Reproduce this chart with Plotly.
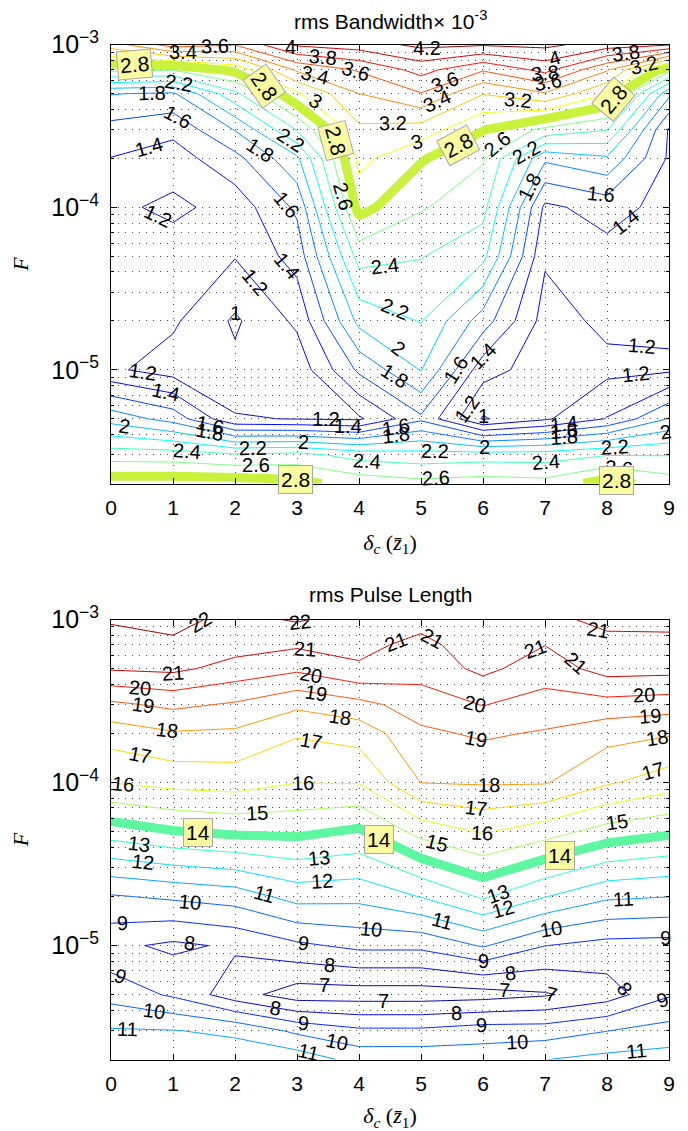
import numpy as np
import plotly.graph_objects as go

# ---------------- data ----------------
delta_c = [0, 1, 2, 3, 4, 5, 6, 7, 8, 9]
F_vals = [2e-6, 3e-6, 5e-6, 1e-5, 2e-5, 5e-5, 1e-4, 2e-4, 3e-4, 5e-4, 7e-4, 1e-3]

# rms bandwidth (x 1e-3): one row per F value, columns delta_c = 0..9
bw_2e6 = [2.90, 2.90, 2.90, 2.85, 2.725, 2.66, 2.70, 2.67, 2.88, 2.70]
bw_3e6 = [2.51, 2.50, 2.43, 2.47, 2.32, 2.28, 2.30, 2.30, 2.39, 2.39]
bw_5e6 = [1.92, 1.72, 1.22, 1.19, 1.17, 1.56, 0.98, 1.17, 1.41, 1.81]
bw_1e5 = [1.235, 1.11, 1.05, 1.07, 1.64, 2.01, 1.28, 1.10, 1.15, 1.17]
bw_2e5 = [1.30, 1.232, 0.97, 1.24, 2.06, 2.21, 1.70, 1.12, 1.244, 1.24]
bw_5e5 = [1.33, 1.31, 1.21, 1.48, 2.48, 2.41, 2.26, 1.225, 1.33, 1.30]
bw_1e4 = [1.25, 1.15, 1.284, 1.64, 2.87, 2.62, 2.47, 1.357, 1.48, 1.33]
bw_2e4 = [1.395, 1.31, 1.536, 1.96, 3.06, 2.82, 2.62, 1.84, 1.97, 1.37]
bw_3e4 = [1.53, 1.45, 1.81, 2.41, 3.16, 3.11, 2.81, 2.55, 2.41, 1.38]
bw_5e4 = [1.81, 1.77, 2.35, 2.97, 3.40, 3.59, 3.21, 3.38, 3.01, 1.85]
bw_7e4 = [2.65, 2.61, 2.85, 3.43, 3.62, 3.87, 3.62, 3.86, 3.42, 2.67]
bw_1e3 = [3.30, 3.70, 3.61, 4.03, 4.10, 4.25, 4.22, 4.25, 4.10, 4.02]

# rms pulse length: one row per F value, columns delta_c = 0..9
pl_2e6 = [11.8, 11.7, 11.6, 11.6, 10.65, 10.65, 10.6, 10.98, 11.3, 11.45]
pl_3e6 = [11.1, 11.04, 10.8, 9.78, 9.2, 9.2, 9.5, 9.5, 9.98, 10.38]
pl_5e6 = [9.62, 8.85, 7.43, 6.47, 6.5, 6.5, 6.6, 6.9, 7.515, 8.9]
pl_1e5 = [8.24, 7.8, 8.15, 8.8, 9.25, 9.25, 10.1, 9.02, 8.66, 8.6]
pl_2e5 = [9.91, 10.18, 10.46, 11.39, 11.3, 12.05, 13.15, 12.05, 11.18, 11.02]
pl_5e5 = [13.47, 13.95, 14.2, 14.23, 13.85, 15.37, 16.1, 15.44, 14.6, 14.18]
pl_1e4 = [16.02, 16.32, 16.43, 16.02, 16.05, 18.02, 18.1, 18.08, 17.12, 16.48]
pl_2e4 = [17.46, 17.9, 17.82, 17.1, 17.4, 18.8, 19.15, 18.9, 18.35, 18.09]
pl_3e4 = [18.78, 19.22, 18.87, 18.2, 18.67, 19.5, 20.03, 19.6, 19.62, 19.46]
pl_5e4 = [21.1, 21.22, 20.64, 20.2, 20.9, 20.4, 21.25, 20.48, 21.4, 21.35]
pl_7e4 = [21.58, 21.82, 21.4, 21.15, 21.2, 20.8, 21.4, 21.02, 21.35, 21.25]
pl_1e3 = [22.1, 22.3, 21.7, 22.1, 21.6, 21.25, 21.5, 21.3, 20.7, 20.75]

bw_levels_low = (1.0, 2.6, 0.2)
bw_levels_high = (3.0, 4.2, 0.2)
bw_highlight = 2.8
pl_levels_low = (7, 13, 1)
pl_levels_high = (15, 22, 1)
pl_highlight = 14

# contour-label anchors: (level, delta_c, approximate F)
bw_labels = [
    (1.4, 0.61, 2.5e-4), (1.6, 1.08, 3.8e-4), (1.8, 0.66, 5.3e-4), (2.2, 1.1, 6.1e-4),
    (3.4, 1.16, 8.9e-4), (3.6, 1.68, 9.3e-4),
    (1.2, 0.76, 9.1e-5), (1.8, 2.4, 2.2e-4), (1.6, 2.84, 8.2e-5), (1.4, 2.84, 4.3e-5),
    (1.2, 2.32, 4e-5), (1, 2.0, 2.1e-5), (2.6, 3.74, 9.7e-5), (2.4, 4.42, 4.1e-5),
    (2.2, 4.58, 2.3e-5), (2, 4.63, 1.33e-5), (1.8, 4.58, 9.7e-6), (1.6, 5.56, 9.7e-6),
    (1.4, 6.0, 1.15e-5), (1.2, 5.74, 5.8e-6), (1, 6.0, 5.2e-6),
    (3, 3.3, 3.8e-4), (2.2, 2.9, 2.8e-4), (3, 4.92, 2.6e-4), (3.2, 4.55, 3.9e-4),
    (3.4, 5.26, 5.5e-4), (3.6, 5.39, 7.3e-4), (4.2, 5.1, 9.7e-4), (3.8, 3.42, 8.7e-4),
    (3.6, 3.95, 7e-4), (3.4, 3.29, 6.6e-4), (4, 2.9, 9.7e-4), (3.2, 6.56, 4.9e-4),
    (3.8, 7.0, 6.5e-4), (3.6, 7.05, 5.1e-4), (4, 7.15, 9.6e-4),
    (2.6, 6.23, 2.2e-4), (2.2, 6.7, 2e-4), (1.8, 6.75, 1.7e-4), (1.6, 7.9, 1.24e-4),
    (1.4, 8.3, 9.3e-5), (3.8, 8.3, 9.7e-4), (3.2, 8.6, 5.3e-4),
    (1.2, 8.56, 1.43e-5), (1.2, 8.47, 9.3e-6),
    (1.2, 0.52, 9.7e-6), (1.4, 0.88, 7.5e-6), (2, 0.21, 4.4e-6), (1.6, 1.6, 4.9e-6),
    (1.8, 1.6, 4.2e-6), (2.4, 1.22, 3.1e-6), (2.2, 2.29, 3.2e-6), (2.6, 2.34, 2.6e-6),
    (1.2, 3.47, 4.9e-6), (1.4, 3.82, 4.4e-6), (2, 3.1, 3.5e-6), (2.4, 4.13, 2.5e-6),
    (1.6, 4.6, 4.6e-6), (1.8, 4.6, 4.1e-6), (2.2, 5.22, 3.1e-6), (2.6, 5.24, 2.2e-6),
    (2, 6.03, 3.3e-6), (2.4, 7.02, 2.7e-6), (1.4, 7.3, 5e-6), (1.6, 7.3, 4.6e-6),
    (1.8, 7.3, 3.9e-6), (2.2, 8.13, 3.4e-6), (2.6, 8.2, 2.6e-6), (2, 8.94, 4.1e-6),
]
pl_labels = [
    (22, 1.44, 9.6e-4), (22, 3.05, 9.6e-4), (21, 1.0, 4.5e-4), (21, 3.13, 6.4e-4),
    (21, 4.6, 6.3e-4), (21, 5.17, 6e-4), (21, 6.84, 5.2e-4), (21, 7.5, 4.9e-4),
    (21, 7.86, 8.4e-4),
    (20, 0.47, 3.9e-4), (20, 3.23, 4.6e-4), (20, 5.87, 3.2e-4), (20, 8.6, 3.6e-4),
    (19, 0.52, 3e-4), (19, 3.3, 3.6e-4), (19, 5.89, 1.9e-4), (19, 8.7, 2.7e-4),
    (18, 0.9, 2.1e-4), (18, 3.7, 2.6e-4), (18, 6.1, 9.6e-5), (18, 8.8, 1.9e-4),
    (17, 0.47, 1.55e-4), (17, 3.23, 1.9e-4), (17, 5.89, 7.1e-5), (17, 8.74, 1.1e-4),
    (16, 0.19, 9.6e-5), (16, 3.1, 9.7e-5), (16, 5.98, 4.9e-5),
    (15, 2.35, 6.5e-5), (15, 5.26, 4.3e-5), (15, 8.16, 5.7e-5),
    (13, 0.45, 4.4e-5), (13, 3.35, 3.6e-5), (13, 6.24, 2e-5),
    (12, 0.52, 3.6e-5), (12, 3.4, 2.5e-5), (12, 6.32, 1.7e-5),
    (11, 2.47, 1.9e-5), (11, 5.35, 1.5e-5), (11, 8.27, 1.95e-5),
    (10, 1.27, 1.8e-5), (10, 4.19, 1.27e-5), (10, 7.1, 1.27e-5),
    (9, 0.19, 1.5e-5), (9, 3.1, 1.07e-5), (9, 6.0, 8.3e-6), (9, 8.94, 1.27e-5),
    (8, 1.26, 9.9e-6), (8, 3.52, 8.1e-6), (8, 6.45, 7e-6), (8, 8.29, 5.6e-6),
    (8, 2.66, 4.3e-6), (8, 5.58, 3.9e-6),
    (7, 3.45, 6.1e-6), (7, 6.35, 5.4e-6), (7, 7.1, 5.2e-6), (7, 4.4, 4.6e-6),
    (9, 0.15, 6.5e-6), (9, 3.1, 3.5e-6), (9, 5.97, 3.3e-6), (9, 8.9, 4.6e-6),
    (10, 0.69, 4e-6), (10, 3.65, 2.6e-6), (10, 6.55, 2.6e-6),
    (11, 0.27, 2.9e-6), (11, 3.18, 2.3e-6), (11, 8.48, 2.3e-6),
]

# highlighted-level box anchors: (delta_c, approximate F, text angle)
bw_box_spots = [(0.38, 8e-4, -5), (2.48, 6e-4, 55), (3.63, 2.5e-4, 75), (5.6, 3e-4, -28),
                (8.1, 5e-4, -50), (2.97, 2.2e-6, 0), (8.16, 2.2e-6, 0)]
pl_box_spots = [(1.4, 5e-5, 0), (4.32, 5e-5, 0), (7.24, 4e-5, 0)]

# ---------------- styling / layout ----------------
FONT = "Liberation Sans, Arial, Helvetica, sans-serif"
SERIF = "Liberation Serif, Times New Roman, serif"
GRID = "#4a4a4a"
DASH = "1px,6px"
HL_BW = "#c8f23c"
HL_PL = "#5cf79e"
BOX_FILL = "#fafaa0"
BOX_EDGE = "#a8a8a8"

W, H = 680.0, 1123.0          # page adds an 8px body margin
PLOT_L, PLOT_R = 103.0, 661.0
TOP_Y = (36.7, 475.5)
BOT_Y = (611.5, 1051.5)
PPX = (PLOT_R - PLOT_L) / 9.0

BW = np.array([bw_2e6, bw_3e6, bw_5e6, bw_1e5, bw_2e5, bw_5e5, bw_1e4,
               bw_2e4, bw_3e4, bw_5e4, bw_7e4, bw_1e3])
PL = np.array([pl_2e6, pl_3e6, pl_5e6, pl_1e5, pl_2e5, pl_5e5, pl_1e4,
               pl_2e4, pl_3e4, pl_5e4, pl_7e4, pl_1e3])
LOGF = np.log10(F_vals)


def jet(t):
    t = min(max(t, 0.0), 1.0)
    r = min(max(1.5 - abs(4 * t - 3), 0), 1)
    g = min(max(1.5 - abs(4 * t - 2), 0), 1)
    b = min(max(1.5 - abs(4 * t - 1), 0), 1)
    return "rgb(%d,%d,%d)" % (round(255 * r), round(255 * g), round(255 * b))


def level_scale(levels, zmin, zmax):
    a, b, s = levels
    n = int(round((b - a) / s)) + 1
    out = []
    for k in range(n):
        v = a + k * s
        pos = 1.0 if k == n - 1 else round(k / (n - 1), 6)
        out.append([pos, jet((v - zmin) / (zmax - zmin))])
    return out


def contour_trace(Z, levels, xa, ya):
    a, b, s = levels
    zmin, zmax = float(Z.min()), float(Z.max())
    return go.Contour(
        x=delta_c, y=F_vals, z=Z, xaxis=xa, yaxis=ya,
        autocontour=False,
        contours=dict(start=a, end=b, size=s, coloring="lines", showlabels=False),
        colorscale=level_scale(levels, zmin, zmax),
        zauto=False, zmin=a, zmax=b,
        line=dict(width=1, smoothing=0),
        showscale=False, hoverinfo="skip")


def highlight_trace(Z, level, color, xa, ya):
    return go.Contour(
        x=delta_c, y=F_vals, z=Z, xaxis=xa, yaxis=ya,
        autocontour=False,
        contours=dict(start=level, end=level + 0.01, size=1, coloring="none",
                      showlabels=False),
        line=dict(width=9, color=color, smoothing=0),
        showscale=False, hoverinfo="skip")


def crossing(Z, xq, level, target):
    xq = min(max(xq, 0.0), 9.0)
    i = min(int(np.floor(xq)), len(delta_c) - 2)
    t = xq - delta_c[i]
    col = (1 - t) * Z[:, i] + t * Z[:, i + 1]
    best = None
    for k in range(len(F_vals) - 1):
        a, b = col[k], col[k + 1]
        if (a - level) * (b - level) <= 0 and a != b:
            u = (level - a) / (b - a)
            ly = LOGF[k] + u * (LOGF[k + 1] - LOGF[k])
            if best is None or abs(ly - target) < abs(best - target):
                best = ly
    return best


def place(Z, level, xq, f_hint, ppd):
    target = np.log10(f_hint)
    ly = crossing(Z, xq, level, target)
    if ly is None or abs(ly - target) > 0.35:
        return target, 0.0
    ang = 0.0
    for d in (0.15, 0.08, 0.04):
        y1 = crossing(Z, xq - d, level, ly)
        y2 = crossing(Z, xq + d, level, ly)
        if y1 is not None and y2 is not None and abs(y2 - y1) < 0.5:
            ang = -np.degrees(np.arctan2((y2 - y1) * ppd, 2 * d * PPX))
            break
    if ang > 90:
        ang -= 180
    if ang < -90:
        ang += 180
    return float(ly), float(ang)


PPD_TOP = (TOP_Y[1] - TOP_Y[0]) / (LOGF[-1] - LOGF[0])
PPD_BOT = (BOT_Y[1] - BOT_Y[0]) / (LOGF[-1] - LOGF[0])

fig = go.Figure()
fig.add_trace(highlight_trace(BW, bw_highlight, HL_BW, "x", "y"))
fig.add_trace(contour_trace(BW, bw_levels_low, "x", "y"))
fig.add_trace(contour_trace(BW, bw_levels_high, "x", "y"))
fig.add_trace(highlight_trace(PL, pl_highlight, HL_PL, "x2", "y2"))
fig.add_trace(contour_trace(PL, pl_levels_low, "x2", "y2"))
fig.add_trace(contour_trace(PL, pl_levels_high, "x2", "y2"))

annotations = []
for Z, labs, xr, yr, ppd in ((BW, bw_labels, "x", "y", PPD_TOP),
                             (PL, pl_labels, "x2", "y2", PPD_BOT)):
    for (lev, xq, fh) in labs:
        ly, ang = place(Z, lev, xq, fh, ppd)
        annotations.append(dict(
            x=xq, y=ly, xref=xr, yref=yr, text="%g" % lev, showarrow=False,
            textangle=ang, font=dict(family=FONT, size=20, color="black")))

for Z, lev, spots, xr, yr, ppd in ((BW, bw_highlight, bw_box_spots, "x", "y", PPD_TOP),
                                   (PL, pl_highlight, pl_box_spots, "x2", "y2", PPD_BOT)):
    for (xq, fh, ang) in spots:
        ly, _ = place(Z, lev, xq, fh, ppd)
        annotations.append(dict(
            x=xq, y=ly, xref=xr, yref=yr, text="%g" % lev, showarrow=False,
            textangle=ang, bgcolor=BOX_FILL, bordercolor=BOX_EDGE,
            borderwidth=1, borderpad=2,
            font=dict(family=FONT, size=21, color="black")))

annotations.append(dict(x=0.5, y=(H - 12) / H, xref="paper", yref="paper",
                        xanchor="center", yanchor="middle",
                        text="rms Bandwidth× 10<sup>-3</sup>", showarrow=False,
                        font=dict(family=FONT, size=21, color="black")))
annotations.append(dict(x=0.5, y=(H - 586) / H, xref="paper", yref="paper",
                        xanchor="center", yanchor="middle",
                        text="rms Pulse Length", showarrow=False,
                        font=dict(family=FONT, size=21, color="black")))

xtitle = "<i>δ</i><sub><i>c</i></sub> (<i>z̄</i><sub>1</sub>)"

common_x = dict(range=[0, 9], tick0=0, dtick=1, ticks="inside", ticklen=6,
                tickwidth=1, tickcolor="black", mirror="allticks",
                showline=True, linecolor="black", linewidth=1,
                showgrid=True, gridcolor=GRID, griddash=DASH, gridwidth=1,
                zeroline=False, ticklabelstandoff=5, automargin=False,
                tickfont=dict(family=FONT, size=21, color="black"),
                title=dict(text=xtitle, font=dict(family=SERIF, size=22, color="black"),
                           standoff=16))
common_y = dict(type="log", range=[float(LOGF[0]), float(LOGF[-1])],
                dtick=1, exponentformat="power", showexponent="all",
                ticks="inside", ticklen=6, tickwidth=1, tickcolor="black",
                mirror="allticks", showline=True, linecolor="black", linewidth=1,
                showgrid=True, gridcolor=GRID, griddash=DASH, gridwidth=1,
                zeroline=False, ticklabelstandoff=7, automargin=False,
                minor=dict(dtick="D1", ticks="inside", ticklen=3, tickcolor="black",
                           showgrid=True, gridcolor=GRID, griddash=DASH, gridwidth=1),
                tickfont=dict(family=FONT, size=20, color="black"),
                title=dict(text="<i>F</i>", font=dict(family=SERIF, size=22, color="black"),
                           standoff=20))

fig.update_layout(
    width=W, height=H,
    margin=dict(l=PLOT_L, r=W - PLOT_R, t=0, b=0, autoexpand=False),
    paper_bgcolor="white", plot_bgcolor="white",
    showlegend=False,
    xaxis=dict(common_x, domain=[0, 1], anchor="y"),
    yaxis=dict(common_y, domain=[(H - TOP_Y[1]) / H, (H - TOP_Y[0]) / H], anchor="x"),
    xaxis2=dict(common_x, domain=[0, 1], anchor="y2"),
    yaxis2=dict(common_y, domain=[(H - BOT_Y[1]) / H, (H - BOT_Y[0]) / H], anchor="x2"),
    annotations=annotations,
)

fig.write_html("out.html")
